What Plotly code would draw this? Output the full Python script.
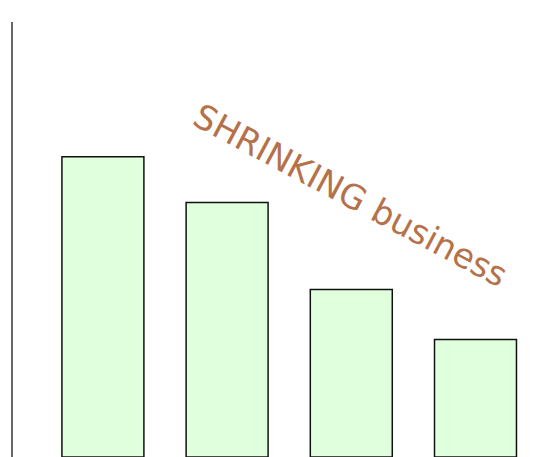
import plotly.graph_objects as go

categories = [0, 1, 2, 3]
values = [69, 58.5, 38.5, 27]
note_text = "SHRINKING business"

fig = go.Figure()
fig.add_trace(go.Bar(
    x=categories, y=values, width=0.66,
    marker=dict(color="#e0ffdc", line=dict(color="#111111", width=1.5)),
))
fig.update_layout(
    width=550, height=457,
    margin=dict(l=5, r=8, t=14, b=8),
    paper_bgcolor="white", plot_bgcolor="white",
    showlegend=False,
    xaxis=dict(range=[-0.724, 3.6], showgrid=False, zeroline=False,
               showticklabels=False, ticks="", showline=False),
    yaxis=dict(range=[0, 100], showgrid=False, zeroline=False,
               showticklabels=False, ticks="", showline=True,
               linecolor="#666666", linewidth=2),
    annotations=[dict(
        text=note_text, xref="paper", yref="paper",
        x=0.628, y=0.602, showarrow=False, textangle=28,
        font=dict(family="Liberation Sans Narrow, DejaVu Sans", size=34, color="#b5714a"),
    )],
)
fig.write_html("out.html")
